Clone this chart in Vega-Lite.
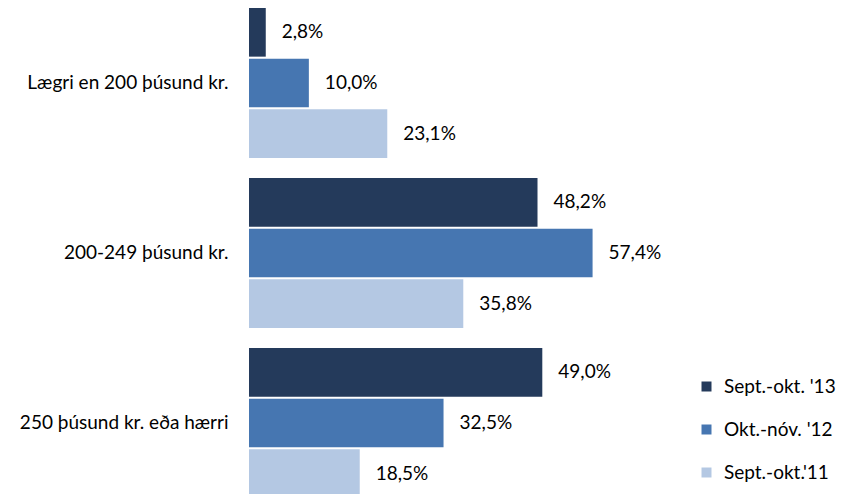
{
  "$schema": "https://vega.github.io/schema/vega-lite/v6.json",
  "width": 419,
  "height": 490,
  "autosize": {"type": "none"},
  "padding": {"left": 249, "top": 8, "right": 182, "bottom": 0},
  "background": "white",
  "config": {
    "locale": {"number": {"decimal": ",", "thousands": ".", "grouping": [3], "currency": ["", " kr."], "percent": "%"}},
    "view": {"stroke": null},
    "font": "Lato"
  },
  "data": {"values": [
    {"cat": "Lægri en 200 þúsund kr.", "series": "Sept.-okt. '13", "value": 0.028},
    {"cat": "Lægri en 200 þúsund kr.", "series": "Okt.-nóv. '12", "value": 0.100},
    {"cat": "Lægri en 200 þúsund kr.", "series": "Sept.-okt.'11", "value": 0.231},
    {"cat": "200-249 þúsund kr.", "series": "Sept.-okt. '13", "value": 0.482},
    {"cat": "200-249 þúsund kr.", "series": "Okt.-nóv. '12", "value": 0.574},
    {"cat": "200-249 þúsund kr.", "series": "Sept.-okt.'11", "value": 0.358},
    {"cat": "250 þúsund kr. eða hærri", "series": "Sept.-okt. '13", "value": 0.490},
    {"cat": "250 þúsund kr. eða hærri", "series": "Okt.-nóv. '12", "value": 0.325},
    {"cat": "250 þúsund kr. eða hærri", "series": "Sept.-okt.'11", "value": 0.185}
  ]},
  "encoding": {
    "y": {
      "field": "cat", "type": "nominal",
      "sort": ["Lægri en 200 þúsund kr.", "200-249 þúsund kr.", "250 þúsund kr. eða hærri"],
      "scale": {"paddingInner": 0.1176, "paddingOuter": 0},
      "axis": {"title": null, "domain": false, "ticks": false, "labelPadding": 21, "labelFontSize": 19, "labelColor": "#000000", "labelLimit": 0, "labelFont": "Lato"}
    },
    "yOffset": {
      "field": "series", "type": "nominal",
      "sort": ["Sept.-okt. '13", "Okt.-nóv. '12", "Sept.-okt.'11"],
      "scale": {"paddingInner": 0.04, "paddingOuter": 0}
    },
    "x": {
      "field": "value", "type": "quantitative",
      "scale": {"domain": [0, 0.7], "nice": false},
      "axis": null
    }
  },
  "layer": [
    {
      "mark": {"type": "bar"},
      "encoding": {
        "color": {
          "field": "series", "type": "nominal",
          "scale": {"domain": ["Sept.-okt. '13", "Okt.-nóv. '12", "Sept.-okt.'11"], "range": ["#243a5b", "#4676b1", "#b4c8e3"]},
          "legend": {
            "title": null, "orient": "none", "legendX": 448, "legendY": 369,
            "symbolType": "square", "symbolSize": 100, "symbolStrokeWidth": 0,
            "labelFontSize": 19, "labelFont": "Lato", "labelColor": "#000000", "labelOffset": 8,
            "rowPadding": 23, "padding": 0, "labelLimit": 0
          }
        }
      }
    },
    {
      "mark": {"type": "text", "align": "left", "baseline": "middle", "dx": 16, "fontSize": 19, "font": "Lato", "color": "#000000"},
      "encoding": {
        "text": {"field": "value", "type": "quantitative", "format": ".1%"}
      }
    }
  ]
}
